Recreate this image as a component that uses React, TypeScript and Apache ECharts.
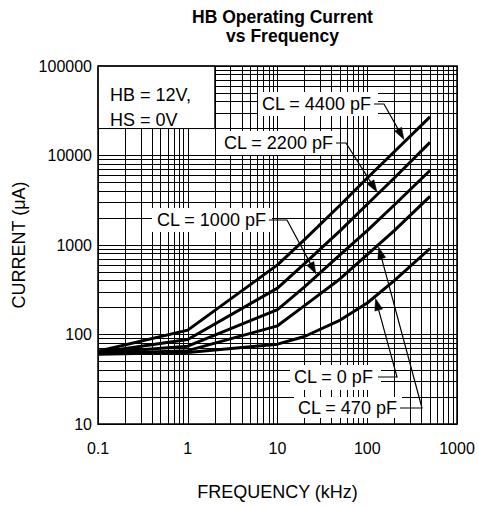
import React, { useEffect, useRef } from "react";
import * as echarts from "echarts";

// ---- data ----
const frequencies = [0.1, 1, 10, 20, 50, 100, 200, 500]; // kHz
const cl4400 = [65, 112, 600, 1150, 2800, 5600, 11000, 27000]; // µA
const cl2200 = [63, 88, 330, 620, 1450, 2850, 5600, 14000];
const cl1000 = [62, 74, 190, 340, 780, 1450, 2800, 6800];
const cl470 = [61, 66, 125, 210, 420, 780, 1450, 3500];
const cl0 = [60, 63, 78, 95, 145, 225, 400, 914];

const xTicks = [0.1, 1, 10, 100, 1000];
const yTicks = [10, 100, 1000, 10000, 100000];
const minorMultipliers = [2, 3, 4, 5, 6, 7, 8, 9];

const curveLabels = ["CL = 4400 pF", "CL = 2200 pF", "CL = 1000 pF", "CL = 470 pF", "CL = 0 pF"];
const curveValues = [cl4400, cl2200, cl1000, cl470, cl0];
// frequency (kHz) where each label's arrow touches its curve
const arrowFreqs = [263, 132, 27.5, 132, 122];

const FONT = "Liberation Sans, Arial, Helvetica, sans-serif";

function interpLog(values: number[], f: number): number {
  const lf = Math.log10(f);
  for (let i = 0; i < frequencies.length - 1; i++) {
    const a = Math.log10(frequencies[i]);
    const b = Math.log10(frequencies[i + 1]);
    if (lf >= a && lf <= b) {
      const t = (lf - a) / (b - a);
      const ya = Math.log10(values[i]);
      const yb = Math.log10(values[i + 1]);
      return Math.pow(10, ya + t * (yb - ya));
    }
  }
  return values[values.length - 1];
}

export default function App() {
  const ref = useRef<HTMLDivElement>(null);

  useEffect(() => {
    document.body.style.margin = "0";
    const chart = echarts.init(ref.current!, null, { renderer: "svg" });

    const gridLines: any[] = [];
    for (let i = 0; i < xTicks.length - 1; i++) {
      for (const m of minorMultipliers) gridLines.push({ xAxis: xTicks[i] * m });
    }
    for (let i = 0; i < yTicks.length - 1; i++) {
      for (const m of minorMultipliers) gridLines.push({ yAxis: yTicks[i] * m });
    }

    const fmt = (v: number) => String(parseFloat(Number(v).toPrecision(10)));

    chart.setOption({
      animation: false,
      title: {
        text: "HB Operating Current\nvs Frequency",
        left: 277.5,
        top: 3,
        textAlign: "center",
        textStyle: {
          fontFamily: FONT,
          fontSize: 17.5,
          fontWeight: "bold",
          color: "#000",
          lineHeight: 18.5,
        },
      },
      grid: { left: 98, right: 22, top: 66, bottom: 80 },
      xAxis: {
        type: "log",
        logBase: 10,
        min: xTicks[0],
        max: xTicks[xTicks.length - 1],
        name: "FREQUENCY (kHz)",
        nameLocation: "middle",
        nameGap: 59,
        nameTextStyle: { fontFamily: FONT, fontSize: 18, color: "#000" },
        axisLine: { show: true, lineStyle: { color: "#000", width: 1 } },
        axisTick: { show: false },
        axisLabel: { fontFamily: FONT, fontSize: 16, color: "#000", margin: 16, formatter: fmt },
        splitLine: { show: true, lineStyle: { color: "#000", width: 1 } },
        minorTick: { show: false },
        minorSplitLine: { show: false },
      },
      yAxis: {
        type: "log",
        logBase: 10,
        min: yTicks[0],
        max: yTicks[yTicks.length - 1],
        name: "CURRENT (μA)",
        nameLocation: "middle",
        nameGap: 70,
        nameRotate: 90,
        nameTextStyle: { fontFamily: FONT, fontSize: 18, color: "#000" },
        axisLine: { show: true, lineStyle: { color: "#000", width: 1 } },
        axisTick: { show: false },
        axisLabel: { fontFamily: FONT, fontSize: 16, color: "#000", margin: 6, formatter: fmt },
        splitLine: { show: true, lineStyle: { color: "#000", width: 1 } },
        minorTick: { show: false },
        minorSplitLine: { show: false },
      },
      series: [
        {
          type: "line",
          data: [],
          silent: true,
          markLine: {
            silent: true,
            z: 1,
            animation: false,
            symbol: ["none", "none"],
            label: { show: false },
            emphasis: { disabled: true },
            lineStyle: { color: "#000", width: 1, type: "solid" },
            data: gridLines,
          },
        },
        ...curveValues.map((vals, k) => ({
          type: "line",
          name: curveLabels[k],
          z: 5,
          silent: true,
          symbol: "none",
          showSymbol: false,
          lineStyle: { color: "#000", width: 3 },
          data: frequencies.map((f, i) => [f, vals[i]]),
        })),
      ],
    });

    const px = (x: number, y: number) => chart.convertToPixel({ gridIndex: 0 } as any, [x, y]) as number[];

    const elements: any[] = [];
    const tl = px(xTicks[0], yTicks[yTicks.length - 1]);
    const br = px(xTicks[xTicks.length - 1], yTicks[0]);

    // HB / HS box (0.1..2 kHz, 20000..100000 µA)
    const hbA = px(0.1, 100000);
    const hbB = px(2, 20000);
    elements.push({
      type: "rect",
      z: 3,
      shape: { x: hbA[0], y: hbA[1], width: hbB[0] - hbA[0], height: hbB[1] - hbA[1] },
      style: { fill: "#fff", stroke: "#000", lineWidth: 1 },
    });
    elements.push({
      type: "text",
      z: 4,
      x: hbA[0] + 12,
      y: 95,
      style: { text: "HB = 12V,", font: `18px ${FONT}`, fill: "#000", textVerticalAlign: "middle" },
    });
    elements.push({
      type: "text",
      z: 4,
      x: hbA[0] + 12,
      y: 120,
      style: { text: "HS = 0V", font: `18px ${FONT}`, fill: "#000", textVerticalAlign: "middle" },
    });

    // label layout: [textX, textY, boxX, boxY, boxW, boxH, leaderStartX, bendX]
    const layout = [
      [262, 104, 258, 92, 120, 24, 374, 384],
      [224, 143, 219, 131, 121, 24, 336, 346],
      [157, 220, 152, 208, 120, 24, 269, 287],
      [298, 408, 294, 397, 108, 21, 400, 422],
      [294, 377, 290, 365, 91, 25, 378, 397],
    ];

    layout.forEach((L, k) => {
      const [tx, ty, bx, by, bw, bh, sx, bendX] = L;
      elements.push({
        type: "rect",
        z: 3,
        shape: { x: bx, y: by, width: bw, height: bh },
        style: { fill: "#fff" },
      });
      elements.push({
        type: "text",
        z: 4,
        x: tx,
        y: ty,
        style: { text: curveLabels[k], font: `18px ${FONT}`, fill: "#000", textVerticalAlign: "middle" },
      });
      const f = arrowFreqs[k];
      const tip = px(f, interpLog(curveValues[k], f));
      const dx = tip[0] - bendX;
      const dy = tip[1] - ty;
      const len = Math.sqrt(dx * dx + dy * dy);
      const ux = dx / len;
      const uy = dy / len;
      const tipX = tip[0] - ux * 2;
      const tipY = tip[1] - uy * 2;
      const ah = 12;
      const aw = 4;
      const baseX = tipX - ux * ah;
      const baseY = tipY - uy * ah;
      elements.push({
        type: "polyline",
        z: 6,
        shape: { points: [[sx, ty], [bendX, ty], [baseX + ux * 2, baseY + uy * 2]] },
        style: { stroke: "#000", lineWidth: 1.2, fill: null },
      });
      elements.push({
        type: "polygon",
        z: 6,
        shape: {
          points: [
            [tipX, tipY],
            [baseX - uy * aw, baseY + ux * aw],
            [baseX + uy * aw, baseY - ux * aw],
          ],
        },
        style: { fill: "#000", stroke: "#000", lineWidth: 0.5 },
      });
    });

    // plot frame
    elements.push({
      type: "rect",
      z: 10,
      shape: { x: tl[0], y: tl[1], width: br[0] - tl[0], height: br[1] - tl[1] },
      style: { fill: null, stroke: "#000", lineWidth: 1.5 },
    });

    chart.setOption({ graphic: { elements } });

    return () => chart.dispose();
  }, []);

  return (
    <div
      ref={ref}
      style={{ position: "absolute", left: 0, top: 0, width: 479, height: 506 }}
    />
  );
}
